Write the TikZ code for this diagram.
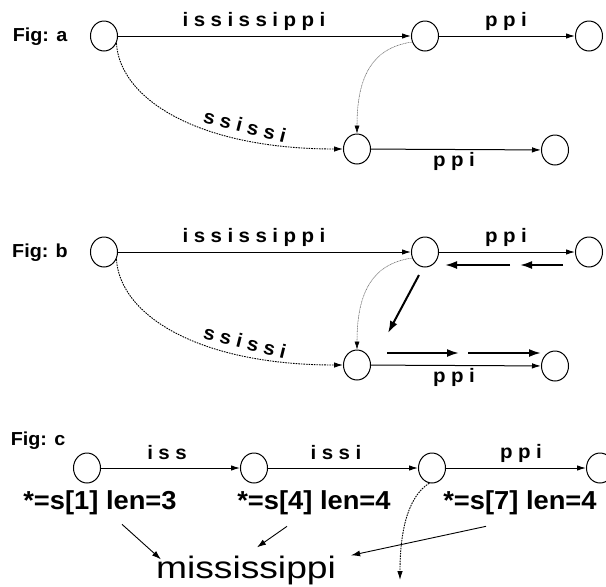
\documentclass[tikz,border=0pt]{standalone}
\usepackage{fontspec}
\setmainfont{Liberation Sans}[FakeStretch=1.05]
\newfontfamily\msfont{Liberation Sans}[FakeStretch=1.2]
\usetikzlibrary{arrows.meta,shapes.geometric}
\newlength\lsp
\setlength\lsp{5.5pt}
\makeatletter
\newcommand\spl[1]{\@tfor\splch:=#1\do{\splch\hspace{\lsp}}\unskip}
\makeatother
\begin{document}
\begin{tikzpicture}[x=1pt,y=-1pt,
  st/.style={ellipse, draw, line width=1pt, minimum width=27pt, minimum height=30pt, inner sep=0pt},
  edge/.style={line width=1pt, -{Latex[length=9pt,width=5.5pt]}},
  elab/.style={font=\bfseries\fontsize{19.5}{19.5}\selectfont, inner sep=0pt},
  figlab/.style={font=\bfseries\fontsize{18.8}{18.8}\selectfont, inner sep=0pt},
  slab/.style={font=\bfseries\fontsize{26}{26}\selectfont, inner sep=0pt},
  big/.style={line width=2pt, -{Latex[length=12pt,width=8pt]}},
  dashedge/.style={line width=0.9pt, dash pattern=on 1.6pt off 1pt, -{Latex[length=9pt,width=5.5pt]}},
  dotedge/.style={line width=0.55pt, draw=black!60, dash pattern=on 1pt off 0.6pt, -{Latex[length=8pt,width=5pt,color=black]}},
  thinarrow/.style={line width=0.9pt, -{Latex[length=9pt,width=6pt]}}
]
\useasboundingbox (0,0) rectangle (606,587);
\fill[white] (0,0) rectangle (606,587);

% ---------- Fig a ----------
\node[figlab] (fa) at (40,37) {Fig: a};
\node[st] (a1) at (104,36) {};
\node[st] (a2) at (425,36) {};
\node[st] (a3) at (589,36) {};
\node[st] (a4) at (357,149) {};
\node[st] (a5) at (555,150) {};
\draw[edge] (a1) -- (a2);
\draw[edge] (a2) -- (a3);
\draw[edge] (a4) -- (a5);
\draw[dashedge] (a1.-30) .. controls (120,100) and (200,149) .. (a4.west);
\draw[dotedge] (a2.205) .. controls (370,48) and (357,80) .. (a4.north);
\node[elab] (la1) at (254,21) {\spl{ississippi}};
\node[elab] (la2) at (506,21) {\spl{ppi}};
\node[elab, rotate=-14] (la3) at (245,126) {\spl{ssissi}};
\node[elab] (la4) at (454,161) {\spl{ppi}};

% ---------- Fig b ----------
\node[figlab] (fb) at (40,253) {Fig: b};
\node[st] (b1) at (104,252) {};
\node[st] (b2) at (425,252) {};
\node[st] (b3) at (589,252) {};
\node[st] (b4) at (357,365) {};
\node[st] (b5) at (555,366) {};
\draw[edge] (b1) -- (b2);
\draw[edge] (b2) -- (b3);
\draw[edge] (b4) -- (b5);
\draw[dashedge] (b1.-30) .. controls (120,316) and (200,365) .. (b4.west);
\draw[dotedge] (b2.205) .. controls (370,264) and (357,296) .. (b4.north);
\node[elab] (lb1) at (254,237) {\spl{ississippi}};
\node[elab] (lb2) at (506,237) {\spl{ppi}};
\node[elab, rotate=-14] (lb3) at (245,342) {\spl{ssissi}};
\node[elab] (lb4) at (454,377) {\spl{ppi}};
\coordinate (l1s) at (510,265); \coordinate (l1e) at (445,265);
\coordinate (l2s) at (563,265); \coordinate (l2e) at (520,265);
\coordinate (ds) at (419,275);  \coordinate (de) at (388,333);
\coordinate (r1s) at (387,353); \coordinate (r1e) at (459,353);
\coordinate (r2s) at (468,353); \coordinate (r2e) at (541,353);
\draw[big] (l1s) -- (l1e);
\draw[big] (l2s) -- (l2e);
\draw[big] (ds) -- (de);
\draw[big] (r1s) -- (r1e);
\draw[big] (r2s) -- (r2e);

% ---------- Fig c ----------
\node[figlab] (fc) at (38,441) {Fig: c};
\node[st] (c1) at (87,468) {};
\node[st] (c2) at (254,468) {};
\node[st] (c3) at (432,468) {};
\node[st] (c4) at (600,468) {};
\draw[edge] (c1) -- (c2);
\draw[edge] (c2) -- (c3);
\draw[edge] (c3) -- (c4);
\node[elab] (lc1) at (167,453) {\spl{iss}};
\node[elab] (lc2) at (336,453) {\spl{issi}};
\node[elab] (lc3) at (521,453) {\spl{ppi}};
\node[slab] (s1) at (100,503) {*=s[1] len=3};
\node[slab] (s4) at (314,503) {*=s[4] len=4};
\node[slab] (s7) at (520,503) {*=s[7] len=4};
\node[font=\msfont\fontsize{31}{31}\selectfont, inner sep=0pt, anchor=base] (ms) at (246,578) {mississippi};
\draw[thinarrow] ([xshift=22pt,yshift=-9pt]s1.south) -- ([xshift=5pt,yshift=-4pt]ms.north west);
\draw[thinarrow] ([xshift=-27pt,yshift=-11pt]s4.south) -- ([xshift=11pt,yshift=8pt]ms.north);
\draw[thinarrow] ([xshift=-34pt,yshift=-11pt]s7.south) -- ([xshift=15pt]ms.north east);
\coordinate (cend) at (400,580);
\draw[dashedge] (c3.-100) .. controls (415,492) and (400,515) .. (cend);
\end{tikzpicture}
\end{document}
